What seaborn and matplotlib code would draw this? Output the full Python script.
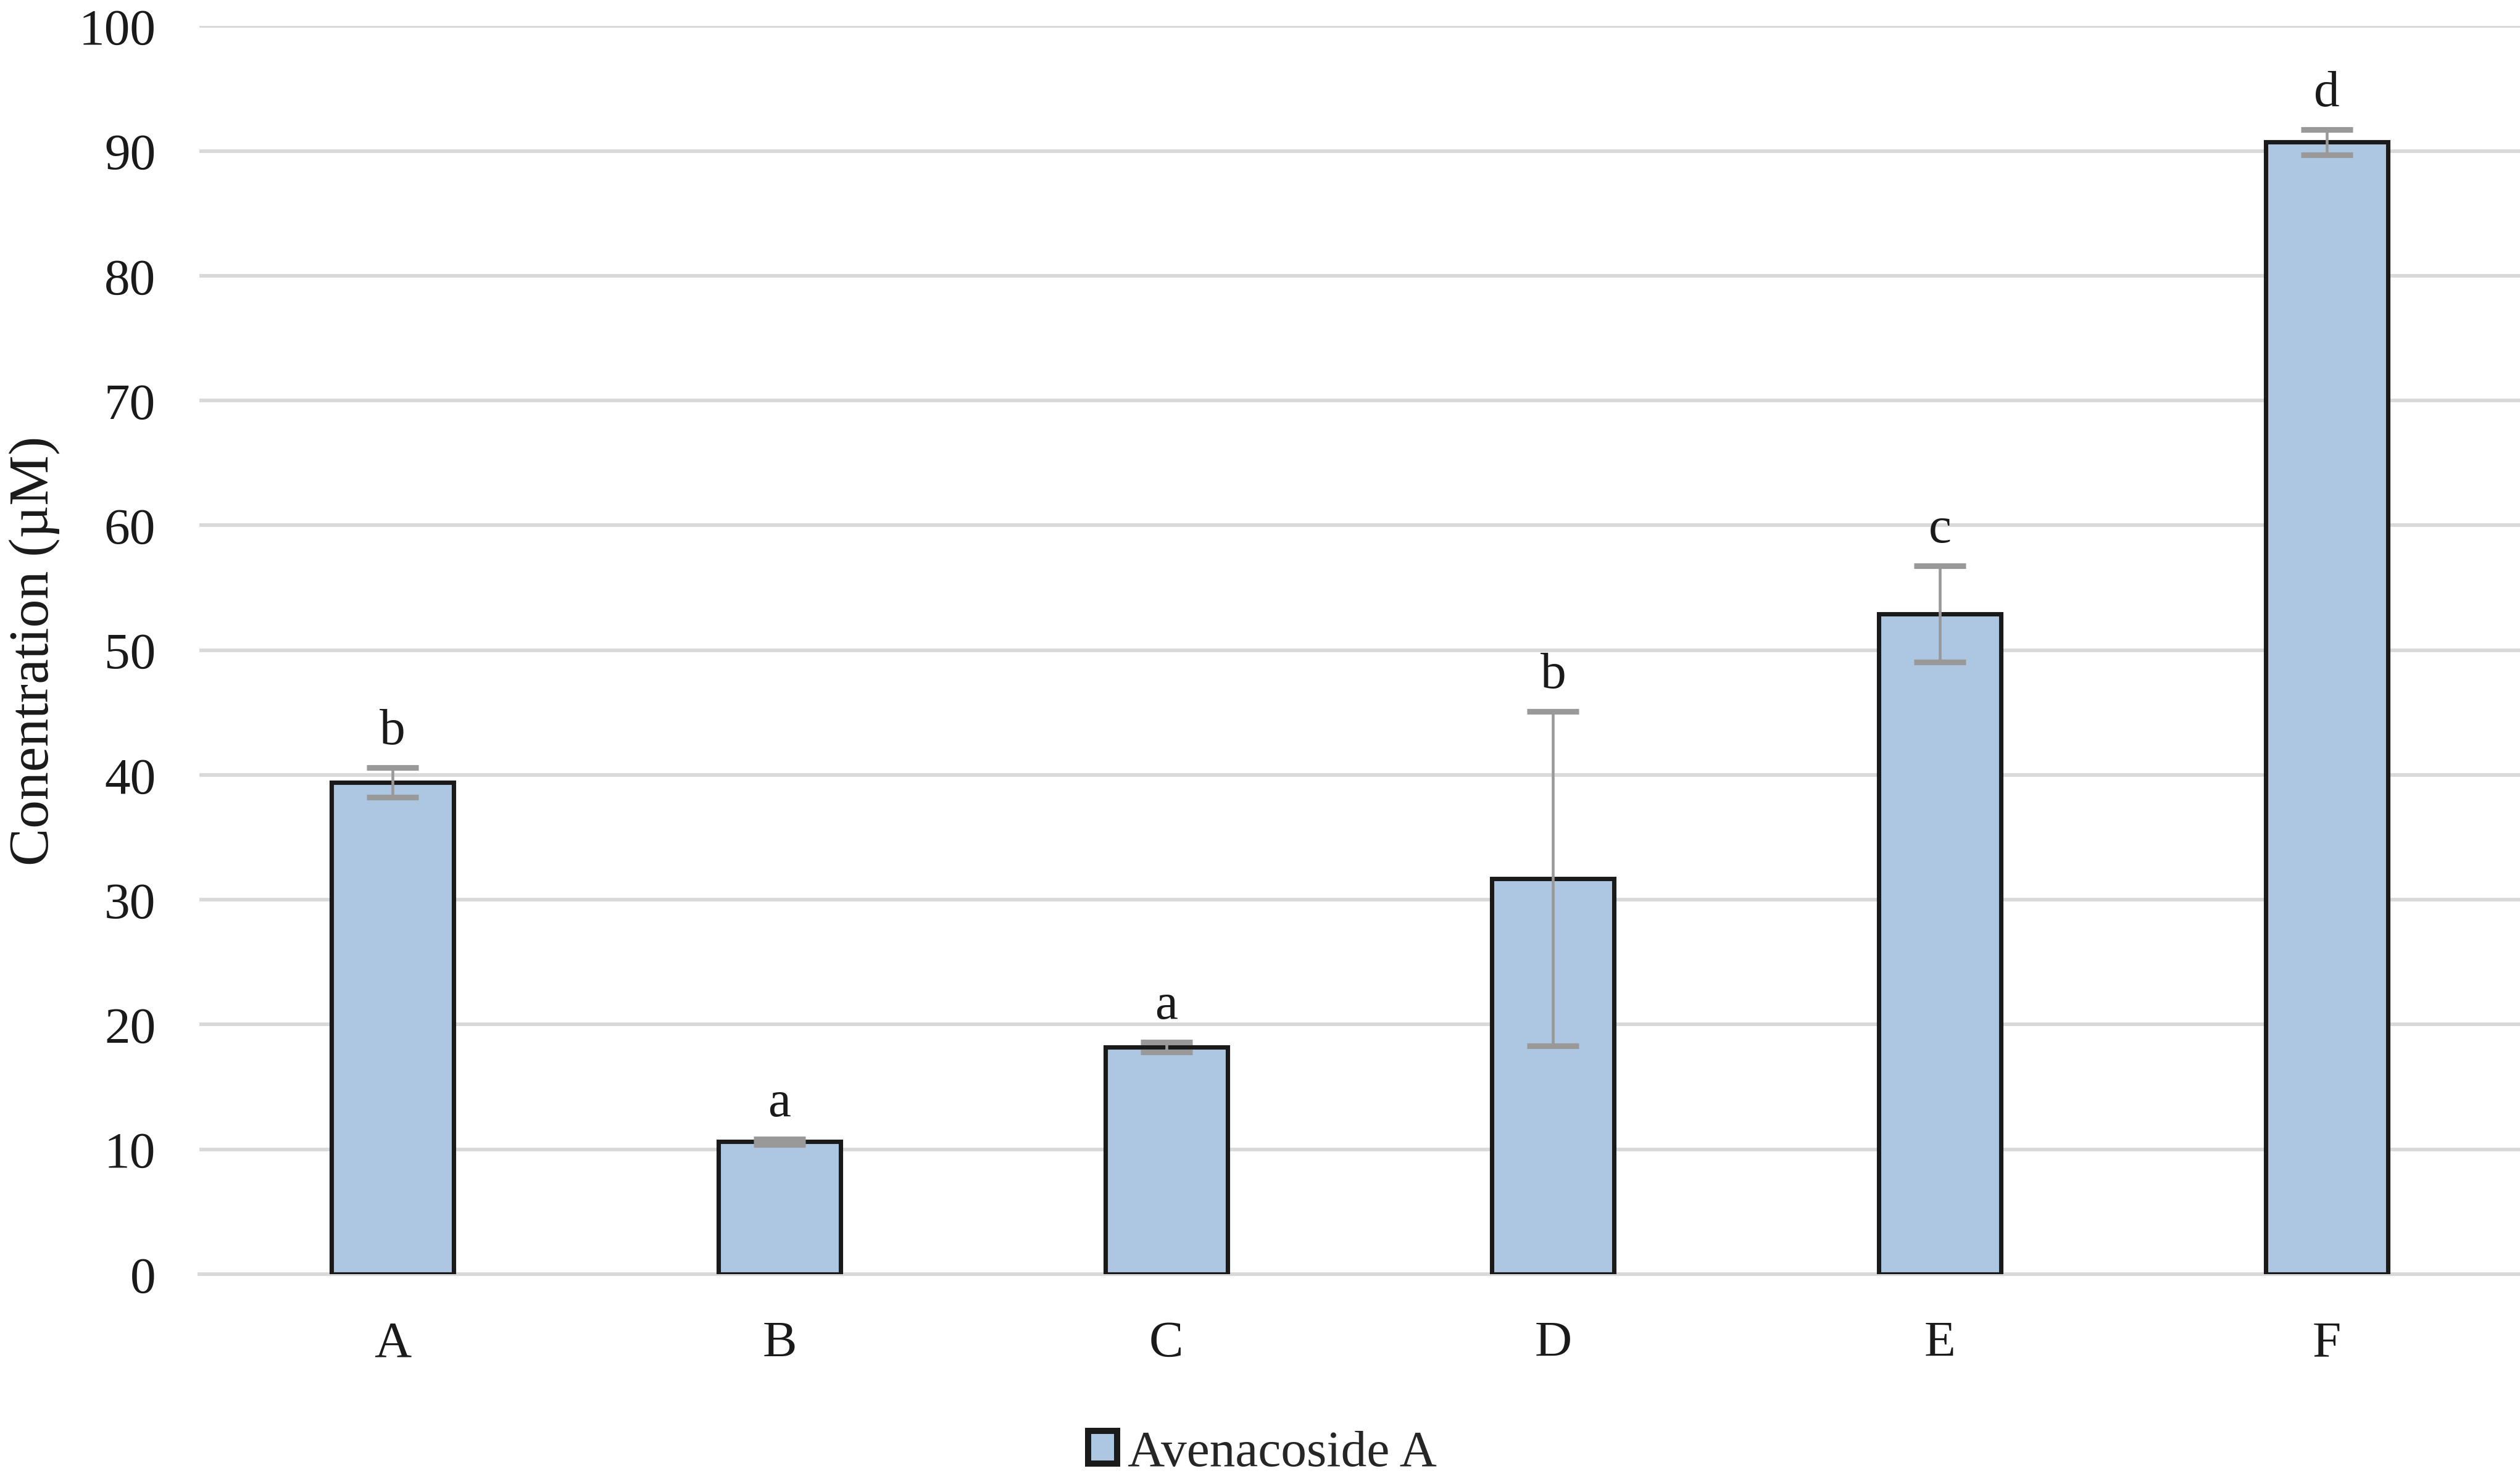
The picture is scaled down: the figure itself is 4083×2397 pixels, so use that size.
import pandas as pd
import matplotlib.pyplot as plt
import seaborn as sns

### data
groups = ['A', 'B', 'C', 'D', 'E', 'F']
conc = [39.4, 10.6, 18.2, 31.7, 52.9, 90.7]
err = [1.2, 0.2, 0.4, 13.4, 3.85, 1.0]
letters = ['b', 'a', 'a', 'b', 'c', 'd']
series = 'Avenacoside A'

df = pd.DataFrame({'group': groups, 'conc': conc, 'series': series})

sns.set_style('white')
plt.rcParams['font.family'] = ['Liberation Serif', 'DejaVu Serif']

fig = plt.figure(figsize=(13.61, 7.993), dpi=300)
ax = fig.add_axes([0.0791, 0.1385, 0.9209, 0.8435])

sns.barplot(data=df, x='group', y='conc', hue='series', palette={series: '#adc6e1'},
            saturation=1, width=0.316, edgecolor='#1a1a1a', linewidth=1.7, ax=ax, zorder=3)

### error bars
eb = ax.errorbar(range(len(groups)), conc, yerr=err, fmt='none', ecolor='#999999',
                 elinewidth=1.1, capsize=10, capthick=2.2, zorder=4)
for cap in eb[1]:
    cap.set_color('#7a7a7a')

### significance letters
for i, (v, e, l) in enumerate(zip(conc, err, letters)):
    ax.annotate(l, (i, v + e), xytext=(0, 5), textcoords='offset points',
                ha='center', va='bottom', fontsize=20, color='#1a1a1a')

ax.set_ylim(0, 100)
ax.set_xlim(-0.5, 5.5)
ax.set_yticks(range(0, 101, 10))
ax.yaxis.grid(True, color='#d9d9d9', linewidth=1.4, zorder=0)
ax.set_axisbelow(True)
for s in ['top', 'right', 'left']:
    ax.spines[s].set_visible(False)
ax.spines['bottom'].set_color('#d9d9d9')
ax.spines['bottom'].set_linewidth(1.4)
ax.tick_params(axis='both', length=0, labelsize=20, colors='#1a1a1a')
ax.tick_params(axis='y', pad=17)
ax.tick_params(axis='x', pad=18)
ax.set_xlabel('')
ax.set_ylabel('Conentration (µM)', fontsize=22, color='#1a1a1a')
ax.yaxis.set_label_coords(-0.06, 0.5)

leg = ax.legend(loc='lower center', bbox_to_anchor=(0.501, 0.0), bbox_transform=fig.transFigure,
                frameon=False, fontsize=20, handlelength=0.56, handleheight=0.6, handletextpad=0.2,
                borderpad=0.0, borderaxespad=0.05)
for h in leg.legend_handles:
    h.set_linewidth(2.4)

fig.savefig('out.png', dpi=300)
